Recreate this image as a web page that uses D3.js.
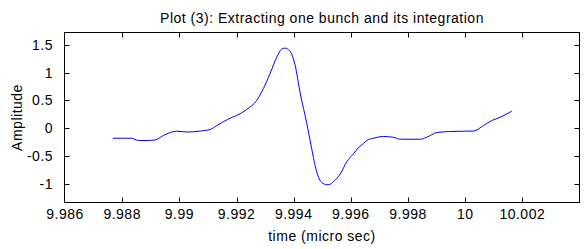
<!DOCTYPE html>
<html>
<head>
<meta charset="utf-8">
<script src="https://cdn.jsdelivr.net/npm/d3@7"></script>
<style>
  body { margin: 0; background: #fff; }
  text { font-family: "Liberation Sans", Arial, sans-serif; font-size: 14px; fill: #000; letter-spacing: 0.5px; }
</style>
</head>
<body>
<div id="chart"></div>
<script>
// time (micro sec) and amplitude
var timeData = [9.98767, 9.98800, 9.98833, 9.98845, 9.98857, 9.98884, 9.98915, 9.98944, 9.98968, 9.98991,
  9.99028, 9.99073, 9.99108, 9.99129, 9.99154, 9.99183, 9.99201, 9.99236, 9.99271, 9.99294,
  9.99318, 9.99341, 9.99358, 9.99370, 9.99382, 9.99393, 9.99405, 9.99423, 9.99446, 9.99463,
  9.99475, 9.99487, 9.99498, 9.99516, 9.99528, 9.99539, 9.99563, 9.99586, 9.99609, 9.99627,
  9.99644, 9.99656, 9.99679, 9.99714, 9.99749, 9.99773, 9.99843, 9.99866, 9.99901, 9.99948,
  10.00029, 10.00064, 10.00093, 10.00123, 10.00163];
var ampData = [-0.181, -0.181, -0.181, -0.204, -0.222, -0.222, -0.213, -0.132, -0.078, -0.054,
  -0.069, -0.051, -0.024, 0.040, 0.116, 0.193, 0.229, 0.338, 0.501, 0.712,
  0.990, 1.279, 1.423, 1.441, 1.414, 1.333, 1.134, 0.627, 0.085, -0.367,
  -0.675, -0.883, -0.977, -1.018, -1.009, -0.964, -0.825, -0.603, -0.463, -0.349,
  -0.277, -0.222, -0.181, -0.150, -0.163, -0.199, -0.199, -0.163, -0.078, -0.060,
  -0.051, 0.047, 0.137, 0.197, 0.306];

var xTicks = [9.986, 9.988, 9.99, 9.992, 9.994, 9.996, 9.998, 10, 10.002];
var xTickLabels = ["9.986", "9.988", "9.99", "9.992", "9.994", "9.996", "9.998", "10", "10.002"];
var yTicks = [-1, -0.5, 0, 0.5, 1, 1.5];
var yTickLabels = ["-1", "-0.5", "0", "0.5", "1", "1.5"];

var width = 584, height = 249;
var plotL = 64.5, plotR = 579.5, plotT = 32.5, plotB = 202.5;

var x = d3.scaleLinear().domain([9.986, 10.004]).range([65, plotR]);
var y = d3.scaleLinear().domain([-1.338, 1.722]).range([plotB, plotT]);

var svg = d3.select("#chart").append("svg")
    .attr("width", width)
    .attr("height", height);

// box
svg.append("rect")
  .attr("x", plotL).attr("y", plotT)
  .attr("width", plotR - plotL).attr("height", plotB - plotT)
  .style("fill", "none").style("stroke", "#000").style("stroke-width", 1);

// inward ticks on all four sides
var tickLen = 5;
var px = function(v){ return Math.round(x(v)) + 0.5; };
var py = function(v){ return Math.round(y(v)) + 0.5; };

svg.selectAll(".xt").data(xTicks.slice(1)).enter().append("path")
  .attr("d", function(d){ return "M" + px(d) + "," + plotB + "v" + (-tickLen) + "M" + px(d) + "," + plotT + "v" + tickLen; })
  .style("stroke", "#000").style("fill", "none");

svg.selectAll(".yt").data(yTicks).enter().append("path")
  .attr("d", function(d){ return "M" + plotL + "," + py(d) + "h" + tickLen + "M" + plotR + "," + py(d) + "h" + (-tickLen); })
  .style("stroke", "#000").style("fill", "none");

svg.selectAll(".xl").data(xTicks).enter().append("text")
  .attr("x", function(d){ return x(d); })
  .attr("y", 219)
  .attr("text-anchor", "middle")
  .text(function(d, i){ return xTickLabels[i]; });

svg.selectAll(".yl").data(yTicks).enter().append("text")
  .attr("x", 53)
  .attr("y", function(d){ return y(d) + 5; })
  .attr("text-anchor", "end")
  .text(function(d, i){ return yTickLabels[i]; });

// curve
var pts = timeData.map(function(t, i){ return [t, ampData[i]]; });
var line = d3.line()
  .x(function(d){ return x(d[0]); })
  .y(function(d){ return y(d[1]); })
  .curve(d3.curveMonotoneX);

svg.append("path")
  .datum(pts)
  .attr("d", line)
  .style("fill", "none")
  .style("stroke", "#0000ff")
  .style("stroke-width", 1);

// labels
svg.append("text")
  .attr("x", (plotL + plotR) / 2).attr("y", 23)
  .attr("text-anchor", "middle")
  .text("Plot (3): Extracting one bunch and its integration");

svg.append("text")
  .attr("x", (plotL + plotR) / 2).attr("y", 241)
  .attr("text-anchor", "middle")
  .text("time (micro sec)");

svg.append("text")
  .attr("transform", "translate(22," + ((plotT + plotB) / 2) + ") rotate(-90)")
  .attr("text-anchor", "middle")
  .text("Amplitude");
</script>
</body>
</html>
